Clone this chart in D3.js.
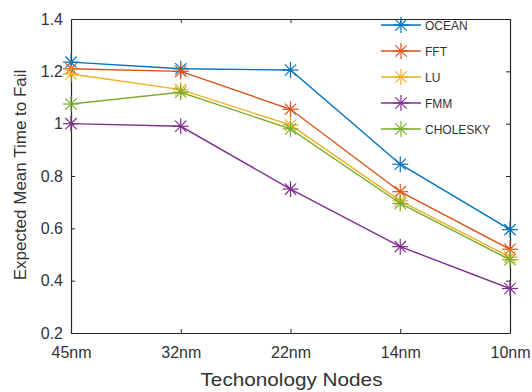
<!DOCTYPE html>
<html>
<head>
<meta charset="utf-8" />
<title>Expected Mean Time to Fail</title>
<style>
body { margin: 0; background: white; font-family: "Liberation Sans", Arial, sans-serif; }
</style>
<script src="https://d3js.org/d3.v7.min.js"></script>
</head>
<body>
<script>
var width = 532;
var height = 392;

// data
var nodes = ["45nm", "32nm", "22nm", "14nm", "10nm"];
var seriesNames = ["OCEAN", "FFT", "LU", "FMM", "CHOLESKY"];
var ocean    = [1.235, 1.21, 1.205, 0.845, 0.595];
var fft      = [1.21, 1.20, 1.055, 0.74, 0.52];
var lu       = [1.19, 1.13, 0.995, 0.705, 0.49];
var fmm      = [1.00, 0.99, 0.75, 0.53, 0.37];
var cholesky = [1.075, 1.12, 0.98, 0.695, 0.48];
var yTicks = [0.2, 0.4, 0.6, 0.8, 1.0, 1.2, 1.4];
var colors = ["#0072BD", "#D95319", "#EDB120", "#7E2F8E", "#77AC30"];

var allSeries = [ocean, fft, lu, fmm, cholesky];

var svg = d3.select("body")
  .append("svg")
  .attr("width", width)
  .attr("height", height);

// plot box (window.top is reserved, so use a margin object)
var box = { left: 71, right: 510, top: 19, bottom: 333 };

var x = d3.scalePoint().domain(nodes).range([box.left, box.right]);
var y = d3.scaleLinear().domain([0.2, 1.4]).range([box.bottom, box.top]);

// axes (box on, ticks inside)
var axisColor = "#262626";
var fmt = function(d){ return d === 1 ? "1" : d3.format(".1f")(d); };

var gx = svg.append("g").attr("transform", "translate(0," + box.bottom + ")")
  .call(d3.axisBottom(x).tickSizeInner(-4).tickSizeOuter(0).tickPadding(14));
var gy = svg.append("g").attr("transform", "translate(" + box.left + ",0)")
  .call(d3.axisLeft(y).tickValues(yTicks).tickFormat(fmt).tickSizeInner(-4).tickSizeOuter(0).tickPadding(8));
var gxt = svg.append("g").attr("transform", "translate(0," + box.top + ")")
  .call(d3.axisTop(x).tickSizeInner(-4).tickSizeOuter(0).tickFormat(""));
var gyr = svg.append("g").attr("transform", "translate(" + box.right + ",0)")
  .call(d3.axisRight(y).tickValues(yTicks).tickSizeInner(-4).tickSizeOuter(0).tickFormat(""));

[gx, gy, gxt, gyr].forEach(function(g){
  g.select(".domain").attr("stroke", axisColor).attr("stroke-width", 1.2);
  g.selectAll(".tick line").attr("stroke", axisColor);
  g.selectAll(".tick text").attr("fill", "#333").style("font-size", "16px")
    .style("font-family", "Liberation Sans, Arial, sans-serif");
});

// axis labels
svg.append("text")
  .attr("x", (box.left + box.right) / 2 + 1).attr("y", 386)
  .attr("text-anchor", "middle")
  .attr("fill", "#333").style("font-size", "19px")
  .attr("textLength", 182).attr("lengthAdjust", "spacingAndGlyphs")
  .text("Techonology Nodes");

svg.append("text")
  .attr("transform", "translate(26,175) rotate(-90)")
  .attr("text-anchor", "middle")
  .attr("fill", "#333").style("font-size", "17px")
  .text("Expected Mean Time to Fail");

// asterisk marker
function star(g, cx, cy, r, color) {
  var d = r * Math.SQRT1_2;
  var segs = [[0, -r, 0, r], [-r, 0, r, 0], [-d, -d, d, d], [-d, d, d, -d]];
  segs.forEach(function(s){
    g.append("line")
      .attr("x1", cx + s[0]).attr("y1", cy + s[1])
      .attr("x2", cx + s[2]).attr("y2", cy + s[3])
      .attr("stroke", color).attr("stroke-width", 1.2);
  });
}

var line = d3.line()
  .x(function(d, i){ return x(nodes[i]); })
  .y(function(d){ return y(d); });

var plot = svg.append("g");
allSeries.forEach(function(vals, k){
  plot.append("path")
    .datum(vals)
    .attr("fill", "none")
    .attr("stroke", colors[k])
    .attr("stroke-width", 1.4)
    .attr("d", line);
  vals.forEach(function(v, i){
    star(plot, x(nodes[i]), y(v), 8, colors[k]);
  });
});

// legend
var legend = svg.append("g");
seriesNames.forEach(function(name, k){
  var ly = 25 + k * 26;
  legend.append("line")
    .attr("x1", 381).attr("x2", 421).attr("y1", ly).attr("y2", ly)
    .attr("stroke", colors[k]).attr("stroke-width", 1.4);
  star(legend, 401, ly, 8, colors[k]);
  legend.append("text")
    .attr("x", 425).attr("y", ly + 4.5)
    .attr("fill", "#333").style("font-size", "12px")
    .text(name);
});
</script>
</body>
</html>
